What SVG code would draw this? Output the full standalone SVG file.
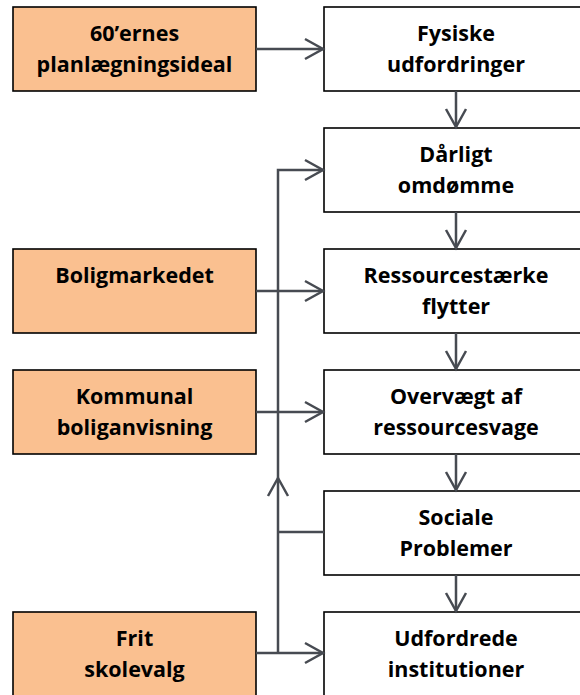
<svg xmlns="http://www.w3.org/2000/svg" width="580" height="695" viewBox="0 0 580 695">
<style>
.box{stroke:#000;stroke-width:1.6}
.src{fill:#FAC090}
.tgt{fill:#fff}
.t{font-family:"Open Sans",Lato,"Liberation Sans",sans-serif;font-weight:bold;font-size:21.5px;fill:#000;text-anchor:middle}
.c{fill:none;stroke:#474B52;stroke-width:2.5}
.ah{fill:none;stroke:#474B52;stroke-width:2.5;stroke-linejoin:miter}
</style>
<rect width="580" height="695" fill="#fff"/>
<g id="n1"><rect class="box src" x="13" y="7" width="243" height="84"/><text class="t" x="134.5" y="41">60’ernes</text><text class="t" x="134.5" y="72">planlægningsideal</text></g>
<g id="n2"><rect class="box src" x="13" y="249" width="243" height="84"/><text class="t" x="134.5" y="283">Boligmarkedet</text></g>
<g id="n3"><rect class="box src" x="13" y="370" width="243" height="84"/><text class="t" x="134.5" y="404">Kommunal</text><text class="t" x="134.5" y="435">boliganvisning</text></g>
<g id="n4"><rect class="box src" x="13" y="612" width="243" height="90"/><text class="t" x="134.5" y="646">Frit</text><text class="t" x="134.5" y="677">skolevalg</text></g>
<g id="r1"><rect class="box tgt" x="324" y="7" width="270" height="84"/><text class="t" x="456" y="41">Fysiske</text><text class="t" x="456" y="72">udfordringer</text></g>
<g id="r2"><rect class="box tgt" x="324" y="128" width="270" height="84"/><text class="t" x="456" y="162">Dårligt</text><text class="t" x="456" y="193">omdømme</text></g>
<g id="r3"><rect class="box tgt" x="324" y="249" width="270" height="84"/><text class="t" x="456" y="283">Ressourcestærke</text><text class="t" x="456" y="314">flytter</text></g>
<g id="r4"><rect class="box tgt" x="324" y="370" width="270" height="84"/><text class="t" x="456" y="404">Overvægt af</text><text class="t" x="456" y="435">ressourcesvage</text></g>
<g id="r5"><rect class="box tgt" x="324" y="491" width="270" height="84"/><text class="t" x="456" y="525">Sociale</text><text class="t" x="456" y="556">Problemer</text></g>
<g id="r6"><rect class="box tgt" x="324" y="612" width="270" height="90"/><text class="t" x="456" y="646">Udfordrede</text><text class="t" x="456" y="677">institutioner</text></g>
<g id="connectors">
<path class="c" d="M256 49H323"/><path class="ah" d="M305 39L323 49L305 59"/>
<path class="c" d="M456 91V127"/><path class="ah" d="M446 109L456 127L466 109"/>
<path class="c" d="M456 212V248"/><path class="ah" d="M446 230L456 248L466 230"/>
<path class="c" d="M456 333V369"/><path class="ah" d="M446 351L456 369L466 351"/>
<path class="c" d="M456 454V490"/><path class="ah" d="M446 472L456 490L466 472"/>
<path class="c" d="M456 575V611"/><path class="ah" d="M446 593L456 611L466 593"/>
<path class="c" d="M256 291H323"/><path class="ah" d="M305 281L323 291L305 301"/>
<path class="c" d="M256 412H323"/><path class="ah" d="M305 402L323 412L305 422"/>
<path class="c" d="M256 653H323"/><path class="ah" d="M305 643L323 653L305 663"/>
<path class="c" d="M278 653V170H323"/><path class="ah" d="M305 160L323 170L305 180"/>
<path class="ah" d="M268 496L278 478L288 496"/>
<path class="c" d="M278 532H324"/>
</g>
</svg>
